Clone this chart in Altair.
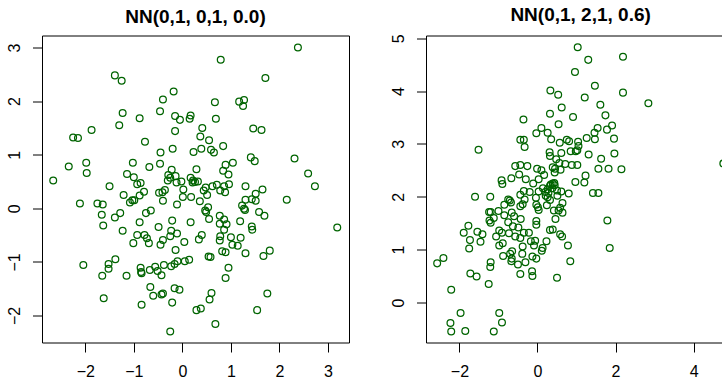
import altair as alt
import pandas as pd

# (x, y) pairs
left_points = [
    (2.38, 3.00), (0.79, 2.77), (-1.39, 2.48), (-1.25, 2.38), (1.71, 2.43), (-0.18, 2.18),
    (-0.40, 2.03), (0.67, 1.98), (1.17, 1.99), (1.27, 2.02), (1.25, 1.91), (-0.46, 1.81),
    (-1.23, 1.78), (-0.88, 1.68), (-0.15, 1.72), (-0.05, 1.65), (0.17, 1.73), (0.15, 1.67),
    (0.69, 1.67), (-1.30, 1.55), (-1.87, 1.46), (-2.25, 1.32), (-2.15, 1.31), (0.41, 1.50),
    (-0.15, 1.44), (1.46, 1.49), (1.63, 1.46), (0.37, 1.34), (0.55, 1.27), (-0.77, 1.24),
    (-0.20, 1.11), (0.39, 1.11), (0.59, 1.09), (0.65, 1.04), (0.84, 1.16), (0.23, 1.05),
    (-0.45, 1.04), (2.31, 0.93), (1.41, 0.95), (1.49, 0.88), (-2.34, 0.78), (-1.98, 0.85),
    (-1.02, 0.85), (-0.46, 0.83), (-0.68, 0.77), (1.04, 0.85), (0.89, 0.81), (0.29, 0.73),
    (-0.22, 0.72), (0.84, 0.70), (0.95, 0.63), (2.59, 0.65), (-1.97, 0.66), (-2.66, 0.52),
    (-1.14, 0.64), (-1.00, 0.58), (-0.29, 0.62), (-0.25, 0.57), (-0.14, 0.60), (-0.30, 0.52),
    (-0.12, 0.48), (-0.02, 0.50), (0.17, 0.57), (0.22, 0.52), (0.26, 0.49), (0.32, 0.50),
    (-0.93, 0.45), (-0.86, 0.47), (0.21, 0.48), (2.73, 0.41), (-1.50, 0.41), (0.02, 0.35),
    (0.48, 0.39), (0.62, 0.41), (0.71, 0.44), (0.86, 0.41), (0.96, 0.45), (1.30, 0.41),
    (1.65, 0.35), (-0.79, 0.31), (-0.48, 0.29), (-0.41, 0.30), (-0.36, 0.34), (0.44, 0.33),
    (0.78, 0.33), (0.88, 0.30), (-1.21, 0.25), (-0.88, 0.24), (1.51, 0.27), (0.01, 0.21),
    (0.18, 0.21), (0.51, 0.25), (2.15, 0.16), (-2.11, 0.09), (-1.75, 0.09), (-1.64, 0.07),
    (-1.08, 0.11), (-1.03, 0.15), (-0.99, 0.15), (-0.40, 0.14), (0.36, 0.13), (1.30, 0.16),
    (1.43, 0.17), (1.51, 0.14), (-0.11, 0.07), (1.23, 0.05), (0.53, 0.02), (1.27, -0.01),
    (1.29, -0.03), (-0.65, -0.04), (0.47, -0.04), (0.49, -0.07), (-1.66, -0.12), (-1.28, -0.09),
    (-1.39, -0.17), (-0.75, -0.09), (0.77, -0.14), (1.58, -0.07), (1.69, -0.14), (0.55, -0.20),
    (0.86, -0.21), (-0.21, -0.23), (0.17, -0.26), (-0.88, -0.26), (1.19, -0.24), (0.77, -0.29),
    (0.91, -0.30), (-1.63, -0.32), (-0.49, -0.35), (1.43, -0.34), (1.44, -0.40), (3.19, -0.36),
    (0.86, -0.40), (-1.23, -0.42), (-0.23, -0.42), (-0.11, -0.47), (-0.25, -0.52), (-0.78, -0.50),
    (-0.93, -0.50), (-0.73, -0.56), (-0.69, -0.65), (-1.01, -0.65), (0.40, -0.50), (0.34, -0.58),
    (0.78, -0.52), (0.77, -0.60), (1.00, -0.54), (1.20, -0.55), (0.04, -0.63), (-0.45, -0.68),
    (-0.40, -0.59), (1.03, -0.68), (1.14, -0.70), (-0.14, -0.78), (0.82, -0.80), (0.89, -0.82),
    (1.30, -0.84), (1.80, -0.79), (1.67, -0.89), (0.54, -0.90), (0.58, -0.91), (0.14, -0.96),
    (0.05, -0.99), (-0.10, -0.99), (-0.16, -1.04), (-0.23, -1.08), (-0.38, -1.06), (-2.04, -1.06),
    (-1.38, -0.95), (-1.52, -1.04), (-1.52, -1.13), (-1.65, -1.26), (-1.15, -1.26), (-0.86, -1.11),
    (-0.85, -1.19), (-0.84, -1.21), (-0.67, -1.15), (-0.56, -1.09), (-0.51, -1.17), (-0.43, -1.25),
    (0.95, -1.11), (0.89, -1.30), (-0.66, -1.47), (-0.16, -1.49), (-0.06, -1.52), (-0.60, -1.63),
    (-0.43, -1.61), (-0.40, -1.59), (-1.62, -1.68), (0.60, -1.58), (0.56, -1.70), (1.75, -1.59),
    (-0.84, -1.80), (-0.21, -1.76), (0.29, -1.90), (0.38, -1.87), (1.54, -1.90), (0.68, -2.16),
    (-0.25, -2.30),
]

right_points = [
    (1.03, 4.83), (2.19, 4.65), (1.30, 4.59), (0.96, 4.36), (1.47, 4.10), (0.33, 4.01),
    (2.19, 3.97), (0.53, 3.93), (1.21, 3.88), (2.84, 3.77), (1.61, 3.74), (0.62, 3.69),
    (0.32, 3.57), (1.74, 3.54), (0.91, 3.51), (-0.36, 3.46), (0.54, 3.37), (1.91, 3.35),
    (0.10, 3.30), (1.54, 3.30), (1.78, 3.27), (1.46, 3.21), (-0.03, 3.20), (0.26, 3.21),
    (0.35, 3.09), (-0.44, 3.08), (-0.35, 3.08), (1.26, 3.11), (1.47, 3.09), (1.96, 3.10),
    (0.75, 3.08), (0.81, 3.05), (1.04, 3.04), (0.57, 3.02), (1.05, 2.96), (-0.33, 2.94),
    (-1.51, 2.89), (1.02, 2.88), (0.98, 2.86), (0.85, 2.86), (0.31, 2.84), (0.61, 2.83),
    (1.97, 2.82), (1.31, 2.80), (0.32, 2.77), (1.63, 2.72), (0.48, 2.71), (0.56, 2.64),
    (0.71, 2.62), (0.88, 2.60), (1.02, 2.60), (-0.57, 2.58), (-0.44, 2.60), (-0.26, 2.58),
    (0.39, 2.56), (0.45, 2.53), (1.56, 2.53), (1.82, 2.53), (2.15, 2.52), (-0.01, 2.53),
    (0.10, 2.50), (0.59, 2.51), (0.44, 2.46), (0.17, 2.41), (-0.47, 2.42), (-0.67, 2.35),
    (-0.30, 2.33), (0.03, 2.33), (1.23, 2.40), (-0.92, 2.31), (-0.90, 2.24), (-0.11, 2.25),
    (1.20, 2.27), (0.97, 2.28), (0.39, 2.25), (0.32, 2.21), (0.44, 2.22), (0.14, 2.16),
    (0.38, 2.16), (0.26, 2.14), (0.50, 2.12), (0.61, 2.10), (-0.35, 2.11), (-0.20, 2.09),
    (0.03, 2.10), (0.20, 2.09), (1.42, 2.07), (1.56, 2.07), (-0.44, 2.04), (-1.60, 2.00),
    (-1.21, 2.00), (0.21, 2.02), (0.80, 2.06), (0.26, 1.99), (0.51, 2.02), (-0.75, 1.95),
    (-0.71, 1.93), (-0.68, 1.89), (-0.33, 1.95), (-0.04, 1.98), (0.32, 1.94), (-0.85, 1.85),
    (-0.38, 1.86), (-0.44, 1.82), (-0.03, 1.85), (0.24, 1.84), (0.64, 1.88), (0.01, 1.80),
    (0.03, 1.75), (0.58, 1.79), (0.54, 1.74), (0.42, 1.74), (0.64, 1.70), (-1.00, 1.73),
    (-1.24, 1.71), (-1.20, 1.71), (-0.66, 1.70), (-0.85, 1.65), (-0.60, 1.63), (-1.12, 1.60),
    (-0.43, 1.58), (-1.23, 1.55), (-1.20, 1.51), (0.46, 1.58), (-0.03, 1.54), (-0.03, 1.47),
    (1.79, 1.55), (-0.75, 1.52), (-0.63, 1.44), (-0.49, 1.42), (-1.77, 1.45), (-1.89, 1.32),
    (-1.54, 1.34), (-1.41, 1.29), (-0.98, 1.36), (-0.91, 1.32), (-0.73, 1.31), (-0.22, 1.32),
    (-0.35, 1.32), (0.32, 1.37), (0.39, 1.38), (0.58, 1.29), (0.63, 1.25), (-1.06, 1.25),
    (-0.57, 1.25), (-0.44, 1.22), (-1.73, 1.18), (-1.46, 1.15), (0.23, 1.16), (-0.17, 1.16),
    (-0.06, 1.17), (-0.89, 1.12), (-0.98, 1.08), (-0.38, 1.06), (-0.09, 1.08), (0.78, 1.08),
    (-1.75, 1.02), (0.13, 1.03), (0.11, 0.98), (1.85, 1.03), (-0.65, 0.97), (-0.70, 0.92),
    (-0.39, 0.92), (-0.88, 0.88), (-0.13, 0.87), (-0.66, 0.83), (-0.03, 0.83), (-0.67, 0.78),
    (-0.31, 0.76), (0.84, 0.78), (-1.20, 0.76), (-1.21, 0.67), (-0.50, 0.72), (-2.41, 0.84),
    (-2.57, 0.74), (-1.72, 0.55), (-1.56, 0.49), (-0.44, 0.54), (-0.14, 0.59), (-0.13, 0.50),
    (0.50, 0.47), (-1.25, 0.35), (-2.21, 0.24), (-1.97, -0.20), (-2.23, -0.39), (-2.21, -0.55),
    (-1.85, -0.54), (-0.98, -0.20), (-0.91, -0.38), (-1.12, -0.55), (4.76, 2.63), (0.34, 2.23),
    (0.43, 2.26), (0.28, 2.07),
]

left_title = "NN(0,1, 0,1, 0.0)"
right_title = "NN(0,1, 2,1, 0.6)"
left_xticks = [-2, -1, 0, 1, 2, 3]
left_yticks = [-2, -1, 0, 1, 2, 3]
right_xticks = [-2, 0, 2, 4]
right_yticks = [0, 1, 2, 3, 4, 5]

GREEN = "#006400"
FONT = "Liberation Sans"

df_l = pd.DataFrame(left_points, columns=["x", "y"])
df_r = pd.DataFrame(right_points, columns=["x", "y"])


def xaxis(vals):
    return alt.Axis(values=vals, grid=False, domain=True, domainColor="black",
                    domainWidth=1, ticks=True, tickSize=9.5, tickColor="black",
                    tickWidth=1, labelPadding=11, labelFontSize=16, labelFont=FONT,
                    labelColor="black", labelBaseline="top", labelFlush=False,
                    labelOverlap=False, title=None)


def yaxis(vals):
    return alt.Axis(values=vals, grid=False, domain=True, domainColor="black",
                    domainWidth=1, ticks=True, tickSize=9.5, tickColor="black",
                    tickWidth=1, labelPadding=13, labelFontSize=16, labelFont=FONT,
                    labelColor="black", labelAngle=270, labelAlign="center",
                    labelBaseline="alphabetic", labelFlush=False,
                    labelOverlap=False, title=None)


def border(orient):
    return alt.Axis(orient=orient, labels=False, ticks=False, domain=True,
                    domainColor="black", domainWidth=1, grid=False, title=None,
                    minExtent=0, maxExtent=0, offset=0)


def title(text, dx=0):
    return alt.TitleParams(text, font=FONT, fontSize=19, fontWeight="bold",
                           color="black", baseline="alphabetic", offset=-6.5,
                           frame="group", anchor="middle", dx=dx)


def panel(df, xs, ys, xt, yt, ttl, width, dx, right_border):
    base = alt.Chart(df)
    pts = base.mark_point(shape="circle", filled=False, size=46, strokeWidth=1.25,
                          color=GREEN, opacity=1, clip=True).encode(
        x=alt.X("x:Q", scale=xs, axis=xaxis(xt)),
        y=alt.Y("y:Q", scale=ys, axis=yaxis(yt)),
    )
    frame = base.mark_point(shape="circle", opacity=0, clip=True).encode(
        x=alt.X("x:Q", scale=xs, axis=border("top")),
        y=alt.Y("y:Q", scale=ys, axis=border("right") if right_border else None),
    )
    return alt.layer(pts, frame).resolve_axis(x="independent", y="independent").properties(
        width=width, height=307, title=title(ttl, dx))


lx = alt.Scale(domain=[-2.891, 3.432], nice=False, zero=False)
ly = alt.Scale(domain=[-2.504, 3.224], nice=False, zero=False)
rx = alt.Scale(domain=[-2.856, 4.726], nice=False, zero=False)
ry = alt.Scale(domain=[-0.757, 5.051], nice=False, zero=False)

left = panel(df_l, lx, ly, left_xticks, left_yticks, left_title, 307, 0, True)
right = panel(df_r, rx, ry, right_xticks, right_yticks, right_title, 296, 6.6, False)

chart = alt.hconcat(left, right, spacing=77, bounds="flush").properties(
    padding={"left": 6, "top": 5.5, "right": 0, "bottom": 0},
    background="white",
).configure_view(strokeOpacity=0)

chart.save("out.html", embed_options={"renderer": "svg", "actions": False})
